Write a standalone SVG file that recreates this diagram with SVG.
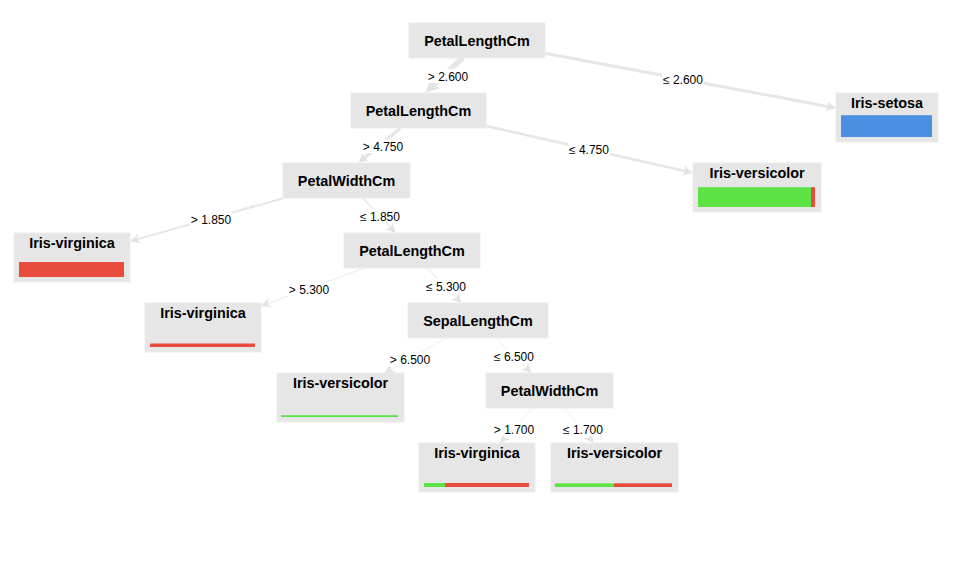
<svg xmlns="http://www.w3.org/2000/svg" width="972" height="582" viewBox="0 0 972 582">
<style>
.bg{fill:#ffffff}
.node rect.box{fill:#e6e6e6;stroke:#ececec;stroke-width:1}
.t{font-family:"Liberation Sans",Arial,sans-serif;font-size:14.4px;font-weight:bold;fill:#000;text-anchor:middle}
.edge{stroke:#e6e6e6;fill:none;stroke-linecap:butt}
.lbl{font-family:"Liberation Sans",Arial,sans-serif;font-size:12px;fill:#000;text-anchor:middle}
.lblbg{fill:#ffffff}
.blue{fill:#4a90e2}
.green{fill:#5ee345}
.red{fill:#e74c3c}
</style>
<defs>
<marker id="arr" viewBox="0 0 10 10" refX="6" refY="5" markerWidth="10" markerHeight="10" markerUnits="userSpaceOnUse" orient="auto">
<path d="M0,0 L10,5 L0,10 L3,5 z" fill="#e3e3e3"/>
</marker>
<marker id="arrBig" viewBox="0 0 10 10" refX="6" refY="5" markerWidth="14" markerHeight="14" markerUnits="userSpaceOnUse" orient="auto">
<path d="M0,0 L10,5 L0,10 L3,5 z" fill="#e3e3e3"/>
</marker>
</defs>
<rect class="bg" x="0" y="0" width="972" height="582"/>

<g id="connectors">
<line class="edge" x1="462.4" y1="58" x2="429.5" y2="88.7" stroke-width="5.5" marker-end="url(#arrBig)"/>
<line class="edge" x1="545" y1="53.3" x2="832.1" y2="107.2" stroke-width="3" marker-end="url(#arr)"/>
<line class="edge" x1="400.5" y1="128" x2="361.6" y2="160.2" stroke-width="3.2" marker-end="url(#arr)"/>
<line class="edge" x1="486" y1="125.9" x2="689.1" y2="172" stroke-width="2.8" marker-end="url(#arr)"/>
<line class="edge" x1="284.1" y1="198" x2="133.9" y2="240.1" stroke-width="2" marker-end="url(#arr)"/>
<line class="edge" x1="362.9" y1="198" x2="392.9" y2="230.1" stroke-width="1.3" marker-end="url(#arr)"/>
<line class="edge" x1="364.5" y1="268" x2="264.8" y2="304.7" stroke-width="0.9" marker-end="url(#arr)"/>
<line class="edge" x1="427" y1="268" x2="458.8" y2="300.1" stroke-width="1" marker-end="url(#arr)"/>
<line class="edge" x1="446.8" y1="338" x2="387.8" y2="371" stroke-width="0.7" marker-end="url(#arr)"/>
<line class="edge" x1="495.9" y1="338" x2="528.7" y2="370.2" stroke-width="0.8" marker-end="url(#arr)"/>
<line class="edge" x1="533" y1="408" x2="502.8" y2="440.1" stroke-width="0.6" marker-end="url(#arr)"/>
<line class="edge" x1="564.3" y1="408" x2="591.2" y2="439.9" stroke-width="0.6" marker-end="url(#arr)"/>

<g id="edge-labels">
<rect class="lblbg" x="427" y="69" width="42" height="14"/>
<text class="lbl" x="448" y="80.5">&gt; 2.600</text>
<rect class="lblbg" x="662" y="72" width="42" height="14"/>
<text class="lbl" x="683" y="84">≤ 2.600</text>
<rect class="lblbg" x="362" y="139" width="42" height="14"/>
<text class="lbl" x="383" y="150.5">&gt; 4.750</text>
<rect class="lblbg" x="568" y="143" width="42" height="14"/>
<text class="lbl" x="589" y="154">≤ 4.750</text>
<rect class="lblbg" x="190" y="212" width="42" height="14"/>
<text class="lbl" x="211" y="224">&gt; 1.850</text>
<rect class="lblbg" x="359" y="209" width="42" height="14"/>
<text class="lbl" x="380" y="221">≤ 1.850</text>
<rect class="lblbg" x="288" y="282" width="42" height="14"/>
<text class="lbl" x="309" y="294">&gt; 5.300</text>
<rect class="lblbg" x="425" y="279" width="42" height="14"/>
<text class="lbl" x="446" y="291">≤ 5.300</text>
<rect class="lblbg" x="389" y="352" width="42" height="14"/>
<text class="lbl" x="410" y="364">&gt; 6.500</text>
<rect class="lblbg" x="493" y="349" width="42" height="14"/>
<text class="lbl" x="514" y="361">≤ 6.500</text>
<rect class="lblbg" x="493" y="422" width="42" height="14"/>
<text class="lbl" x="514" y="434">&gt; 1.700</text>
<rect class="lblbg" x="562" y="422" width="42" height="14"/>
<text class="lbl" x="583" y="434">≤ 1.700</text>
</g>
</g>

<g id="node-root" class="node">
<rect class="box" x="409" y="23" width="136" height="35"/>
<text class="t" x="477" y="45.5">PetalLengthCm</text>
</g>
<g id="node-petallength-2" class="node">
<rect class="box" x="351" y="93" width="135" height="35"/>
<text class="t" x="418.5" y="115.5">PetalLengthCm</text>
</g>
<g id="node-setosa" class="node">
<rect class="box" x="836" y="93" width="102" height="49"/>
<text class="t" x="887" y="107.5">Iris-setosa</text>
<rect class="blue" x="841" y="115.2" width="91" height="21.8"/>
</g>
<g id="node-petalwidth-3" class="node">
<rect class="box" x="283" y="163" width="127" height="35"/>
<text class="t" x="346.5" y="185.5">PetalWidthCm</text>
</g>
<g id="node-versicolor-1" class="node">
<rect class="box" x="693" y="163" width="128" height="49"/>
<text class="t" x="757" y="177.5">Iris-versicolor</text>
<rect class="green" x="698" y="187.2" width="113" height="19.8"/>
<rect class="red" x="811" y="187.2" width="4" height="19.8"/>
</g>
<g id="node-virginica-1" class="node">
<rect class="box" x="14" y="233" width="116" height="49"/>
<text class="t" x="72" y="247.5">Iris-virginica</text>
<rect class="red" x="19" y="262" width="105" height="15"/>
</g>
<g id="node-petallength-4" class="node">
<rect class="box" x="344" y="233" width="136" height="35"/>
<text class="t" x="412" y="255.5">PetalLengthCm</text>
</g>
<g id="node-virginica-2" class="node">
<rect class="box" x="145" y="303" width="116" height="49"/>
<text class="t" x="203" y="317.5">Iris-virginica</text>
<rect class="red" x="150" y="343.5" width="105" height="3.5"/>
</g>
<g id="node-sepallength-5" class="node">
<rect class="box" x="408" y="303" width="140" height="35"/>
<text class="t" x="478" y="325.5">SepalLengthCm</text>
</g>
<g id="node-versicolor-2" class="node">
<rect class="box" x="277" y="373" width="127" height="49"/>
<text class="t" x="340.5" y="387.5">Iris-versicolor</text>
<rect class="green" x="281" y="415.2" width="117" height="1.8"/>
</g>
<g id="node-petalwidth-6" class="node">
<rect class="box" x="486" y="373" width="127" height="35"/>
<text class="t" x="549.5" y="395.5">PetalWidthCm</text>
</g>
<g id="node-virginica-3" class="node">
<rect class="box" x="419" y="443" width="116" height="49"/>
<text class="t" x="477" y="457.5">Iris-virginica</text>
<rect class="green" x="424" y="483" width="21" height="4"/>
<rect class="red" x="445" y="483" width="84" height="4"/>
</g>
<g id="node-versicolor-3" class="node">
<rect class="box" x="551" y="443" width="127" height="49"/>
<text class="t" x="614.5" y="457.5">Iris-versicolor</text>
<rect class="green" x="555" y="483.3" width="59" height="3.7"/>
<rect class="red" x="614" y="483.3" width="58" height="3.7"/>
</g>
</svg>
